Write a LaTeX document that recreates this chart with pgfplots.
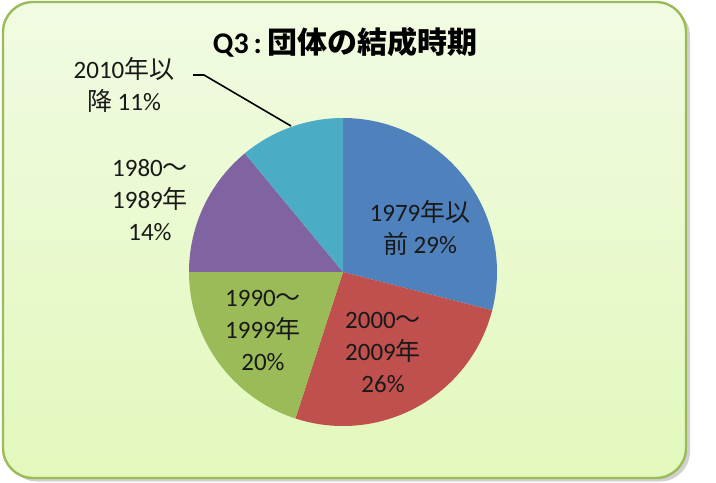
\documentclass[border=0pt]{standalone}
\usepackage{pgfplots}
\pgfplotsset{compat=1.18}
\usepackage{fontspec}
\setmainfont{Carlito}
\newfontfamily\cjk{Noto Sans CJK JP}

\definecolor{sBlue}{HTML}{4F81BD}
\definecolor{sRed}{HTML}{C0504D}
\definecolor{sGreen}{HTML}{9BBB59}
\definecolor{sPurple}{HTML}{8064A2}
\definecolor{sTeal}{HTML}{4BACC6}
\definecolor{frame}{HTML}{9BBB59}

% shares in percent, clockwise from 12 o'clock
\def\pA{29} % 1979年以前
\def\pB{26} % 2000~2009年
\def\pC{20} % 1990~1999年
\def\pD{14} % 1980~1989年
\def\pE{11} % 2010年以降
\pgfmathsetmacro\aA{90}
\pgfmathsetmacro\aB{\aA-3.6*\pA}
\pgfmathsetmacro\aC{\aB-3.6*\pB}
\pgfmathsetmacro\aD{\aC-3.6*\pC}
\pgfmathsetmacro\aE{\aD-3.6*\pD}
\pgfmathsetmacro\aF{\aE-3.6*\pE}

\begin{document}
\begin{tikzpicture}[lbl/.style={font=\fontsize{12.5}{16}\selectfont, align=center, text=black!90}]
\begin{axis}[
    width=358pt, height=241pt, scale only axis,
    xmin=0, xmax=716, ymin=0, ymax=482,
    hide axis, clip=false,
]
% page and frame
\path (axis cs:0,0) rectangle (axis cs:716,482);
\fill[black, opacity=0.18, rounded corners=15pt] (axis cs:7,476) rectangle (axis cs:690,0.5);
\shade[top color={rgb,255:red,241;green,251;blue,226}, bottom color={rgb,255:red,226;green,248;blue,188}, rounded corners=15pt]
    (axis cs:3,480) rectangle (axis cs:686,4);
\draw[frame, line width=1.2pt, rounded corners=15pt] (axis cs:3,480) rectangle (axis cs:686,4);

% slices
\addplot[fill=sBlue, draw=none, domain=\aB:\aA, samples=80] ({343+154*cos(x)},{210+154*sin(x)}) -- (axis cs:343,210) -- cycle;
\addplot[fill=sRed, draw=none, domain=\aC:\aB, samples=80] ({343+154*cos(x)},{210+154*sin(x)}) -- (axis cs:343,210) -- cycle;
\addplot[fill=sGreen, draw=none, domain=\aD:\aC, samples=80] ({343+154*cos(x)},{210+154*sin(x)}) -- (axis cs:343,210) -- cycle;
\addplot[fill=sPurple, draw=none, domain=\aE:\aD, samples=80] ({343+154*cos(x)},{210+154*sin(x)}) -- (axis cs:343,210) -- cycle;
\addplot[fill=sTeal, draw=none, domain=\aF:\aE, samples=80] ({343+154*cos(x)},{210+154*sin(x)}) -- (axis cs:343,210) -- cycle;

% title
\node[font=\fontsize{15}{18}\selectfont\bfseries] at (axis cs:345,440) {Q3\,:\,{\cjk 団体の結成時期}};

% labels
\node[lbl] at (axis cs:420,254) {1979{\cjk 年以}\\{\cjk 前} 29\%};
\node[lbl] at (axis cs:383,130) {2000{\cjk ～}\\2009{\cjk 年}\\26\%};
\node[lbl] at (axis cs:263,152) {1990{\cjk ～}\\1999{\cjk 年}\\20\%};
\node[lbl] at (axis cs:150,282) {1980{\cjk ～}\\1989{\cjk 年}\\14\%};
\node[lbl] at (axis cs:124,397) {2010{\cjk 年以}\\{\cjk 降} 11\%};
\draw[black, line width=0.8pt] (axis cs:193,407) -- (axis cs:204,407) -- (axis cs:291,356);
\end{axis}
\end{tikzpicture}
\end{document}
